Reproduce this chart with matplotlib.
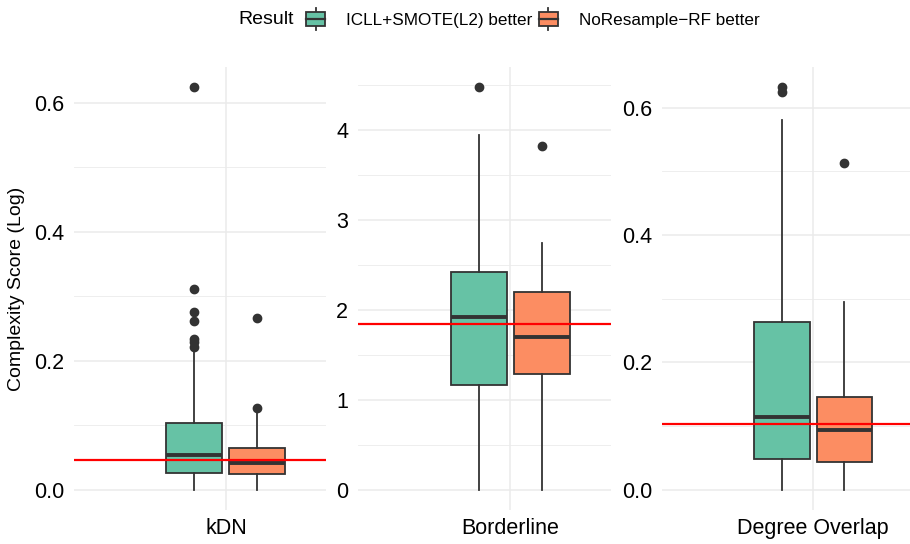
import matplotlib
matplotlib.use("Agg")
import matplotlib.pyplot as plt
from matplotlib.patches import Rectangle
from matplotlib.lines import Line2D
from matplotlib.legend_handler import HandlerBase
from matplotlib.ticker import MultipleLocator, FormatStrFormatter

plt.rcParams["font.family"] = ["Liberation Sans", "DejaVu Sans"]

metrics = ["kDN", "Borderline", "Degree Overlap"]
groups = ["ICLL+SMOTE(L2) better", "NoResample\u2212RF better"]
colors = ["#66C2A5", "#FC8D62"]

# low whisker, q1, median, q3, high whisker
green_stats = [[0.0, 0.0257, 0.0545, 0.103, 0.214],
               [0.0, 1.17, 1.92, 2.42, 3.95],
               [0.0, 0.0485, 0.1137, 0.264, 0.580]]
orange_stats = [[0.0, 0.0247, 0.0417, 0.0648, 0.124],
                [0.0, 1.29, 1.70, 2.20, 2.75],
                [0.0, 0.043, 0.094, 0.1465, 0.2945]]
green_outliers = [[0.221, 0.229, 0.234, 0.261, 0.276, 0.312, 0.624],
                  [4.48],
                  [0.624, 0.632]]
orange_outliers = [[0.127, 0.2665],
                   [3.83],
                   [0.513]]
ref_lines = [0.0463, 1.85, 0.103]
major_step = [0.2, 1, 0.2]
label_fmt = ["%.1f", "%d", "%.1f"]

# panel layout in pixels: left, right, centre
W, H = 910, 544
panels = [(74, 326, 226), (358, 611, 510), (662, 910, 813)]
top_px, bot_px = 67, 510
px_per_unit = 210.0
edge = "#333333"


class BoxHandler(HandlerBase):
    def create_artists(self, legend, orig_handle, xdescent, ydescent,
                       width, height, fontsize, trans):
        x0, y0 = -xdescent, -ydescent
        mid = x0 + width / 2
        low = Line2D([mid, mid], [y0, y0 + 0.2 * height], color=edge, lw=1.3, transform=trans)
        up = Line2D([mid, mid], [y0 + 0.8 * height, y0 + height], color=edge, lw=1.3, transform=trans)
        box = Rectangle((x0, y0 + 0.2 * height), width, 0.6 * height,
                        facecolor=orig_handle.get_facecolor(), edgecolor=edge, lw=1.3,
                        transform=trans)
        med = Line2D([x0, x0 + width], [y0 + height / 2] * 2, color=edge, lw=1.6, transform=trans)
        return [low, up, box, med]


fig = plt.figure(figsize=(W / 100, H / 100), dpi=100)

for i, metric in enumerate(metrics):
    left, right, centre = panels[i]
    ax = fig.add_axes([left / W, 1 - bot_px / H, (right - left) / W, (bot_px - top_px) / H])

    stats = []
    for s, fl in [(green_stats[i], green_outliers[i]), (orange_stats[i], orange_outliers[i])]:
        stats.append(dict(whislo=s[0], q1=s[1], med=s[2], q3=s[3], whishi=s[4], fliers=fl))

    offset = 31.5 / px_per_unit
    bw = 56 / px_per_unit
    bp = ax.bxp(stats, positions=[1 - offset, 1 + offset], widths=bw, patch_artist=True,
                showcaps=False,
                boxprops=dict(edgecolor=edge, linewidth=1.3),
                medianprops=dict(color=edge, linewidth=2.8),
                whiskerprops=dict(color=edge, linewidth=1.3),
                flierprops=dict(marker="o", markerfacecolor=edge, markeredgecolor=edge,
                                markersize=6))
    for patch, c in zip(bp["boxes"], colors):
        patch.set_facecolor(c)

    ax.axhline(ref_lines[i], color="red", lw=1.6, zorder=5)

    ymax = max(max(green_outliers[i] + [green_stats[i][4]]),
               max(orange_outliers[i] + [orange_stats[i][4]]))
    ax.set_ylim(-0.05 * ymax, 1.05 * ymax)
    ax.set_xlim(1 - (centre - left) / px_per_unit, 1 + (right - centre) / px_per_unit)

    ax.yaxis.set_major_locator(MultipleLocator(major_step[i]))
    ax.yaxis.set_minor_locator(MultipleLocator(major_step[i] / 2))
    ax.yaxis.set_major_formatter(FormatStrFormatter(label_fmt[i]))
    ax.set_xticks([1])
    ax.set_xticklabels([metric])

    ax.grid(which="major", color="#EBEBEB", lw=1.1)
    ax.grid(which="minor", axis="y", color="#EBEBEB", lw=0.6)
    ax.set_axisbelow(True)
    ax.tick_params(which="both", length=0, labelsize=15.5, colors="black")
    ax.tick_params(axis="y", pad=7)
    ax.tick_params(axis="x", pad=6)
    for sp in ax.spines.values():
        sp.set_visible(False)

    if i == 0:
        ax.set_ylabel("Complexity Score (Log)", fontsize=14)
        ax.yaxis.set_label_coords(-0.195, 0.5)

handles = [Rectangle((0, 0), 1, 1, facecolor=c) for c in colors]
fig.text(238 / W, 1 - 19 / H, "Result", fontsize=14, va="center", ha="left")
fig.legend(handles, groups, handler_map={Rectangle: BoxHandler()}, loc="center",
           bbox_to_anchor=(533 / W, 1 - 19 / H), ncol=2, frameon=False, fontsize=12.3,
           handlelength=1.11, handleheight=1.64, handletextpad=1.23, columnspacing=0.35,
           borderpad=0.2)

fig.savefig("out.png", dpi=100, facecolor="white")
